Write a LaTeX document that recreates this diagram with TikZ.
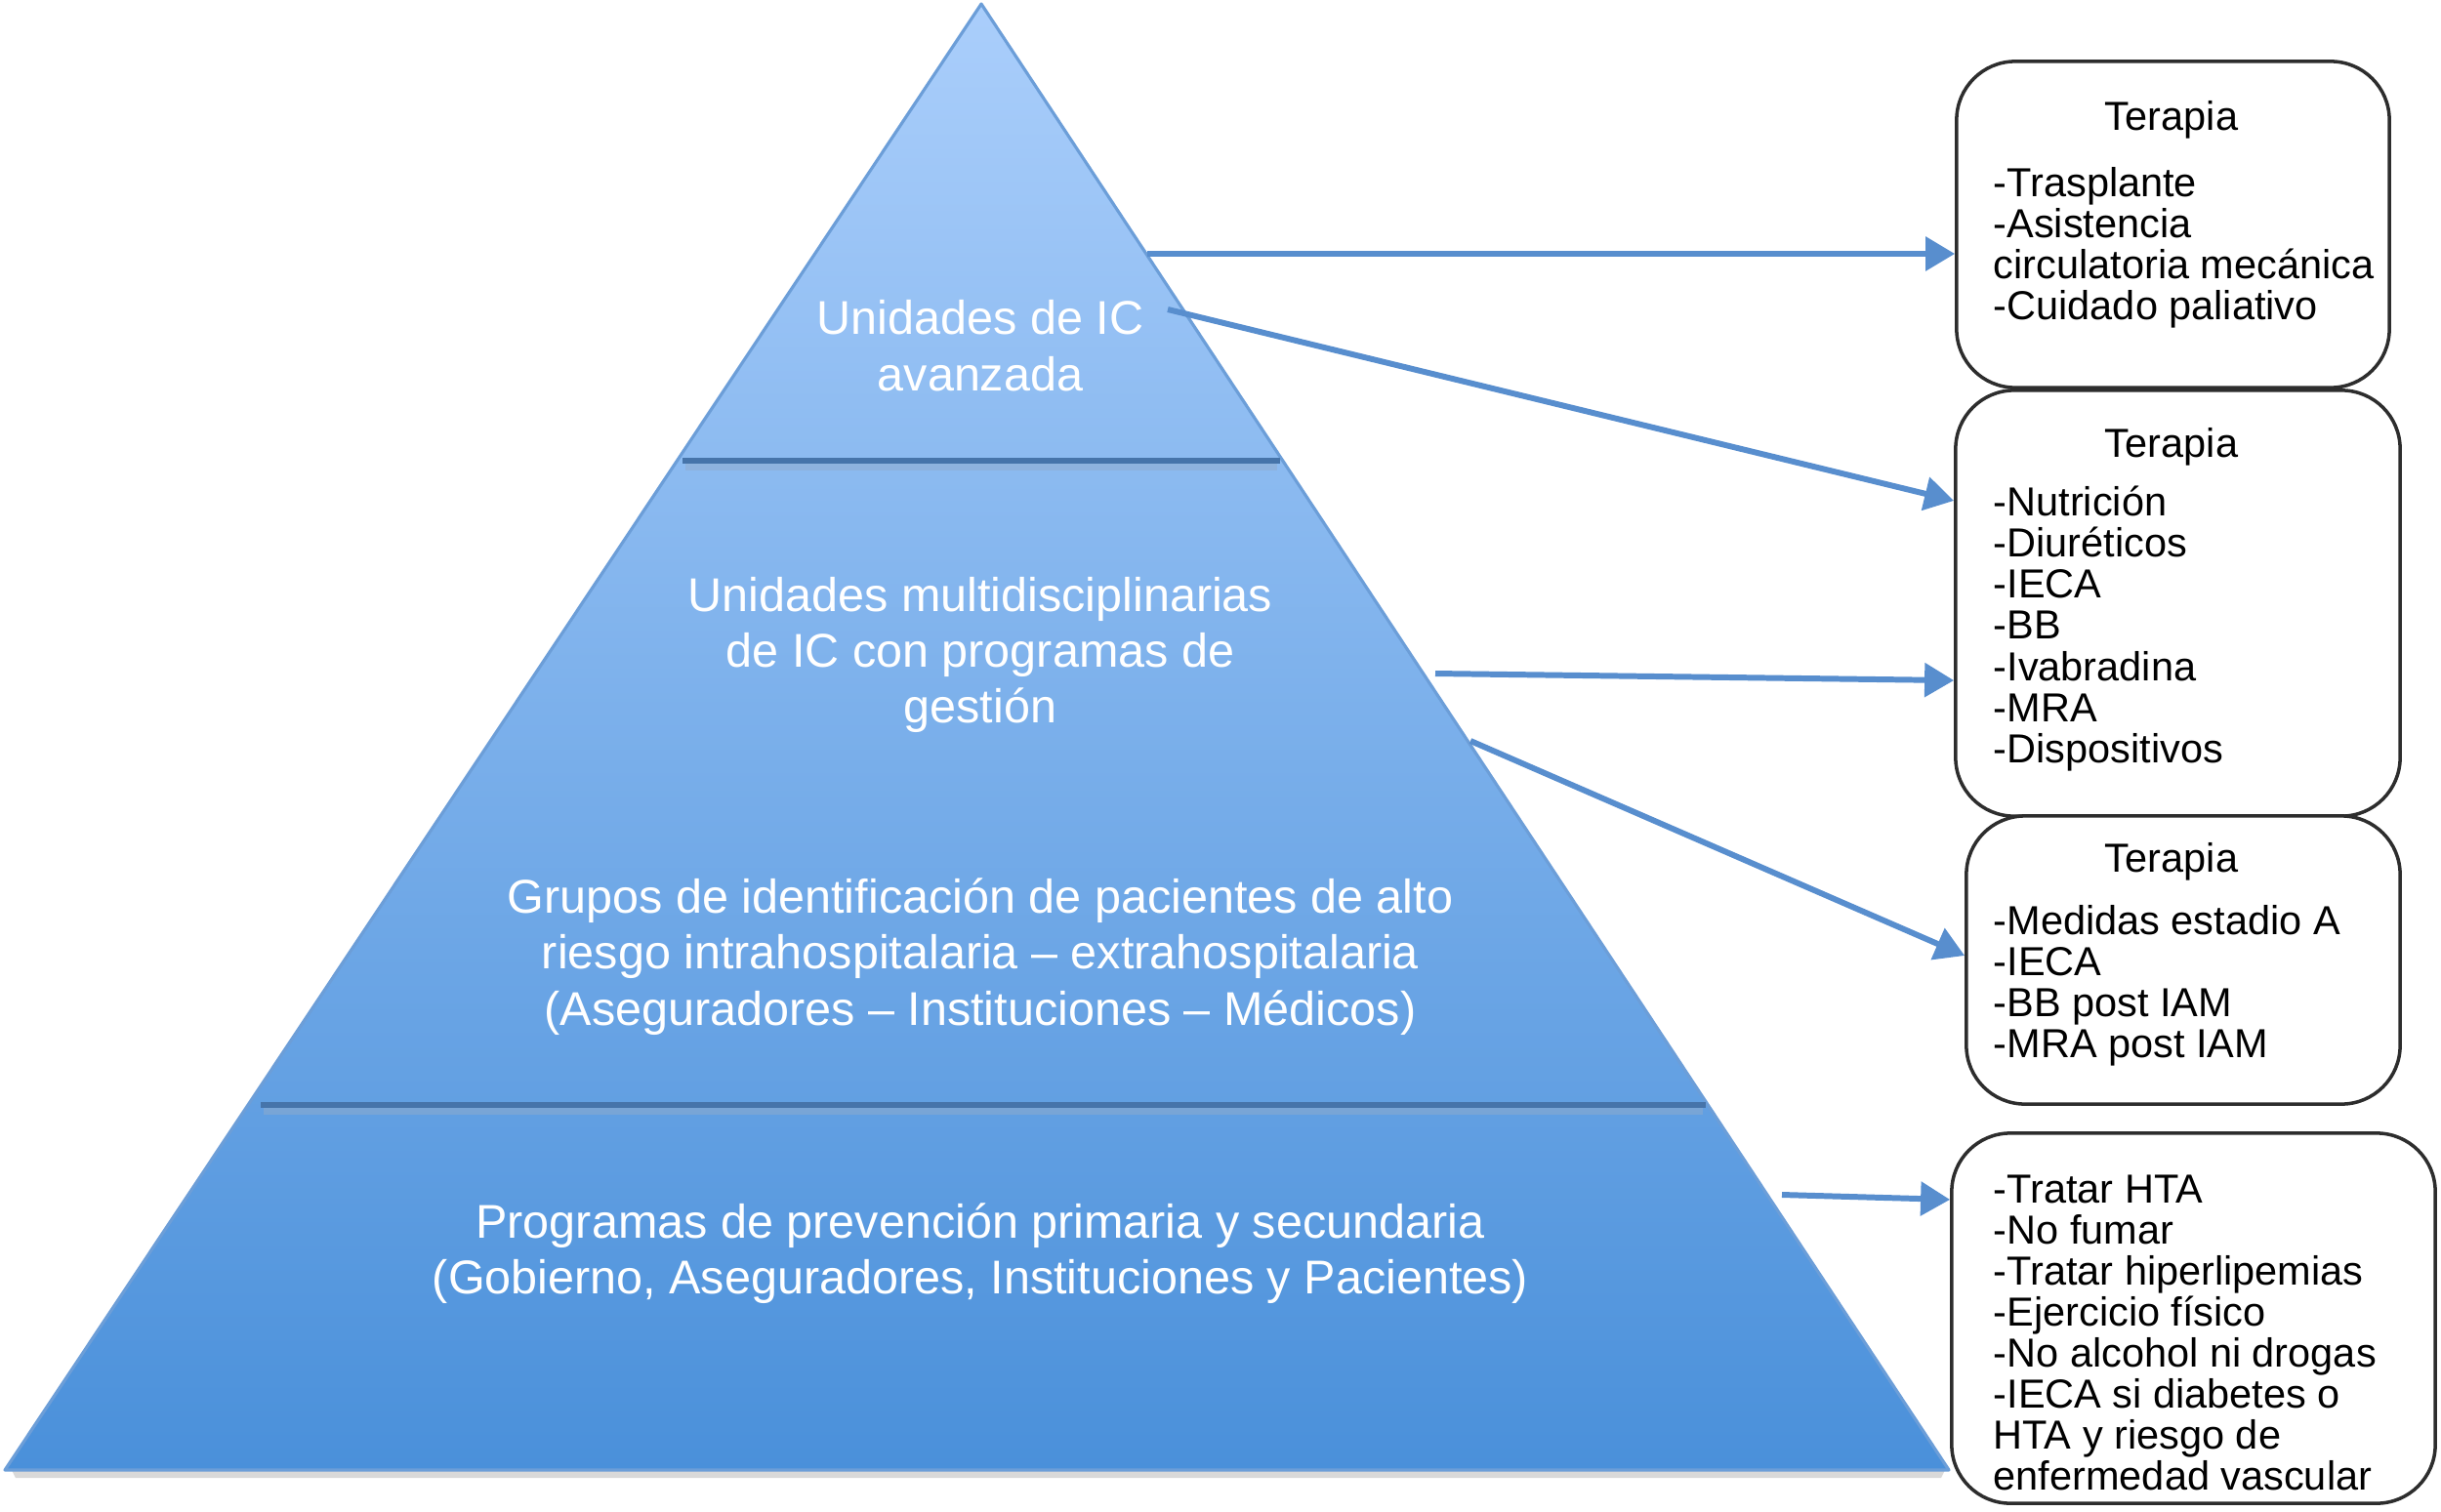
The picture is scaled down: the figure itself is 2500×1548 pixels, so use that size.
\documentclass[tikz,border=0pt]{standalone}
\usepackage{fontspec}
\setmainfont{Liberation Sans}
\usetikzlibrary{arrows.meta}
\definecolor{pyrtop}{RGB}{170,206,251}
\definecolor{pyrbot}{RGB}{74,144,218}
\definecolor{pyredge}{RGB}{108,158,216}
\definecolor{divline}{RGB}{70,116,170}
\definecolor{arrowblue}{RGB}{88,142,206}
\definecolor{boxline}{RGB}{45,45,45}
\begin{document}
\begin{tikzpicture}[x=0.01cm,y=-0.01cm,
  pyrtext/.style={text=white, align=center, font=\fontsize{13.8}{16.3}\selectfont, inner sep=0pt},
  boxshape/.style={draw=boxline, line width=1pt, rounded corners=0.6cm, fill=white, inner sep=0pt},
  listtext/.style={align=left, font=\fontsize{11.8}{11.95}\selectfont, inner sep=0pt, anchor=west},
  titletext/.style={font=\fontsize{11.8}{11.95}\selectfont, inner sep=0pt},
  arr/.style={draw=arrowblue, line width=1.7pt, -{Triangle[length=0.3cm,width=0.34cm]}},
  divider/.style={draw=divline, line width=1.8pt}]
\useasboundingbox (0,0) rectangle (2500,1548);
% pyramid
\fill[black!25, opacity=0.6] (12,1506) -- (1992,1506) -- (1988,1514) -- (16,1514) -- cycle;
\shade[top color=pyrtop, bottom color=pyrbot] (1005,4) -- (1996,1506) -- (5,1506) -- cycle;
\draw[pyredge, line width=0.9pt, line join=round] (1005,4) -- (1996,1506) -- (5,1506) -- cycle;
% dividers
\draw[divline!60, line width=2pt, opacity=0.5] (702,478) -- (1308,478);
\draw[divider] (699,472) -- (1311,472);
\draw[divline!60, line width=2pt, opacity=0.5] (270,1138) -- (1744,1138);
\draw[divider] (267,1132) -- (1747,1132);
% pyramid texts
\node[pyrtext] (t1) at (1004,354) {Unidades de IC\\avanzada};
\node[pyrtext] (t2) at (1004,671) {Unidades multidisciplinarias\\de IC con programas de\\gestión};
\node[pyrtext] (t3) at (1004,980) {Grupos de identificación de pacientes de alto\\riesgo intrahospitalaria – extrahospitalaria\\(Aseguradores – Instituciones – Médicos)};
\node[pyrtext] (t4) at (1004,1284) {Programas de prevención primaria y secundaria\\(Gobierno, Aseguradores, Instituciones y Pacientes)};
% boxes
\node[boxshape, minimum width=4.43cm, minimum height=3.34cm] (b1) at (2225.5,230) {};
\node[boxshape, minimum width=4.55cm, minimum height=4.36cm] (b2) at (2230.5,618) {};
\node[boxshape, minimum width=4.44cm, minimum height=2.95cm] (b3) at (2236,983.5) {};
\node[boxshape, minimum width=4.95cm, minimum height=3.79cm] (b4) at (2246.5,1350.5) {};
% box texts
\node[titletext] (h1) at (2224,123) {Terapia};
\node[listtext] (l1) at (2041,254) {-Trasplante\\-Asistencia\\circulatoria mecánica\\-Cuidado paliativo};
\node[titletext] (h2) at (2224,458) {Terapia};
\node[listtext] (l2) at (2041,644) {-Nutrición\\-Diuréticos\\-IECA\\-BB\\-Ivabradina\\-MRA\\-Dispositivos};
\node[titletext] (h3) at (2224,883) {Terapia};
\node[listtext] (l3) at (2041,1010) {-Medidas estadio A\\-IECA\\-BB post IAM\\-MRA post IAM};
\node[listtext] (l4) at (2041,1365) {-Tratar HTA\\-No fumar\\-Tratar hiperlipemias\\-Ejercicio físico\\-No alcohol ni drogas\\-IECA si diabetes o\\HTA y riesgo de\\enfermedad vascular};
% arrows
\coordinate (s1) at (1175,260);
\coordinate (s2) at (1196,317);
\coordinate (s3) at (1470,690);
\coordinate (s4) at (1506,759);
\coordinate (s5) at (1825,1224);
\draw[arr] (s1) -- (b1.west |- s1);
\draw[arr] (s2) -- ([yshift=1.05cm]b2.west);
\draw[arr] (s3) -- ([yshift=-0.79cm]b2.west);
\draw[arr] (s4) -- ([yshift=0.045cm]b3.west);
\draw[arr] (s5) -- ([yshift=1.215cm]b4.west);
\end{tikzpicture}
\end{document}
